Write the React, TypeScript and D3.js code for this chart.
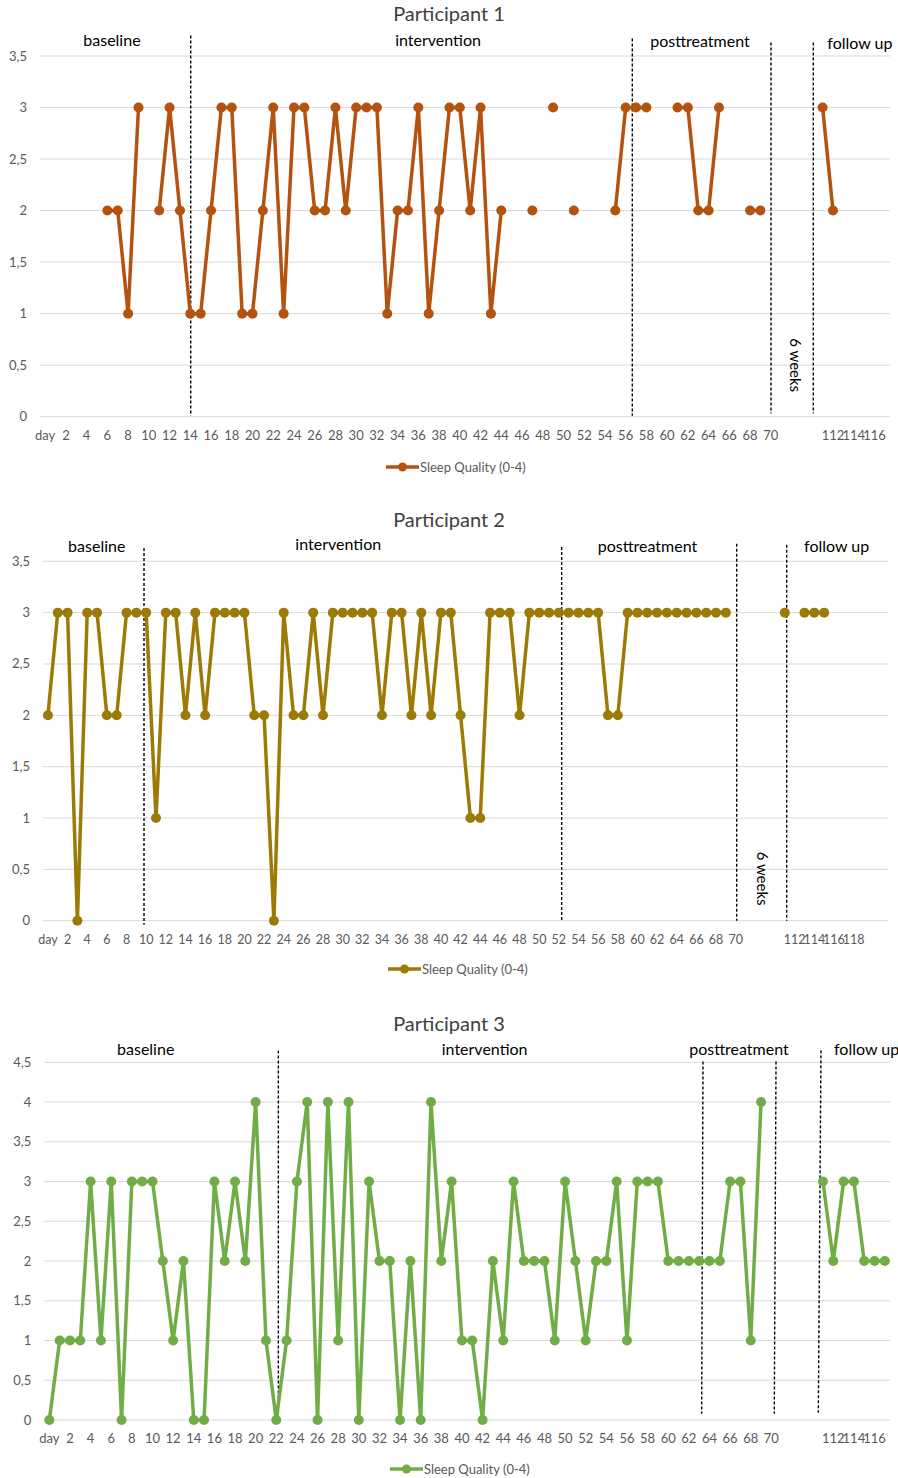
import { useEffect, useRef } from "react";
import * as d3 from "d3";

// Sleep quality per category index (null = no entry)
const P1_QUALITY: (number | null)[] = [
  null, null, null, null, null, null, 2, 2, 1, 3,
  null, 2, 3, 2, 1, 1, 2, 3, 3, 1,
  1, 2, 3, 1, 3, 3, 2, 2, 3, 2,
  3, 3, 3, 1, 2, 2, 3, 1, 2, 3,
  3, 2, 3, 1, 2, null, null, 2, null, 3,
  null, 2, null, null, null, 2, 3, 3, 3, null,
  null, 3, 3, 2, 2, 3, null, null, 2, 2,
  null, null, null, null, null, 3, 2, null, null, null,
  null, null,
];

const P2_QUALITY: (number | null)[] = [
  2, 3, 3, 0, 3, 3, 2, 2, 3, 3,
  3, 1, 3, 3, 2, 3, 2, 3, 3, 3,
  3, 2, 2, 0, 3, 2, 2, 3, 2, 3,
  3, 3, 3, 3, 2, 3, 3, 2, 3, 2,
  3, 3, 2, 1, 1, 3, 3, 3, 2, 3,
  3, 3, 3, 3, 3, 3, 3, 2, 2, 3,
  3, 3, 3, 3, 3, 3, 3, 3, 3, 3,
  null, null, null, null, null, 3, null, 3, 3, 3,
  null, null, null, null, null, null,
];

const P3_QUALITY: (number | null)[] = [
  0, 1, 1, 1, 3, 1, 3, 0, 3, 3,
  3, 2, 1, 2, 0, 0, 3, 2, 3, 2,
  4, 1, 0, 1, 3, 4, 0, 4, 1, 4,
  0, 3, 2, 2, 0, 2, 0, 4, 2, 3,
  1, 1, 0, 2, 1, 3, 2, 2, 2, 1,
  3, 2, 1, 2, 2, 3, 1, 3, 3, 3,
  2, 2, 2, 2, 2, 2, 3, 3, 1, 4,
  null, null, null, null, null, 3, 2, 3, 3, 2,
  2, 2,
];

// Category labels: "day", 1..70, a few empty slots, then follow-up days
const BASE_DAYS = ["day", ...d3.range(1, 71).map(String)];
const GAP = ["", "", "", ""];
const FOLLOW_1 = ["111", "112", "113", "114", "115", "116", "117"];
const FOLLOW_2 = ["111", "112", "113", "114", "115", "116", "117", "118", "119", "", ""];
const FOLLOW_3 = ["111", "112", "113", "114", "115", "116", "117"];

const Y_TICKS_35 = [0, 0.5, 1, 1.5, 2, 2.5, 3, 3.5];
const Y_TICKS_45 = [0, 0.5, 1, 1.5, 2, 2.5, 3, 3.5, 4, 4.5];

const PHASES = ["baseline", "intervention", "posttreatment", "follow up"];
const LEGEND_LABEL = "Sleep Quality (0-4)";

// phase dividers in category units: [x top, x bottom, value top, value bottom]
const DIVIDERS_1 = [
  [14.04, 14.04, 3.7, 0.01],
  [56.64, 56.64, 3.67, 0.01],
  [70.02, 70.02, 3.63, 0.03],
  [74.1, 74.1, 3.63, 0.03],
];
const DIVIDERS_2 = [
  [9.78, 9.78, 3.63, -0.04],
  [52.29, 52.29, 3.64, 0],
  [70.1, 70.1, 3.67, 0],
  [75.19, 75.19, 3.66, 0],
];
const DIVIDERS_3 = [
  [22.2, 22.2, 4.65, 0.03],
  [63.37, 63.24, 4.51, 0.08],
  [70.45, 70.28, 4.51, 0.08],
  [74.81, 74.55, 4.65, 0.09],
];

const FONT = "Lato, 'Open Sans', sans-serif";

interface ChartCfg {
  title: string;
  values: (number | null)[];
  labels: string[];
  yTicks: number[];
  color: string;
  left: number;
  right: number;
  yZero: number;
  yTop: number;
  titleY: number;
  legendY: number;
  legendX: number;
  tickSize: number;
  dividers: number[][];
  // phase label positions in category units, plus value for vertical placement
  phasePos: { i: number; v: number; anchor: string }[];
  weeks?: { i: number; v: number };
}

const CHARTS: ChartCfg[] = [
  {
    title: "Participant 1",
    values: P1_QUALITY,
    labels: [...BASE_DAYS, ...GAP, ...FOLLOW_1],
    yTicks: Y_TICKS_35,
    color: "#b4520f",
    left: 40, right: 890, yZero: 416.7, yTop: 56,
    titleY: 21, legendY: 467, legendX: 386, tickSize: 13,
    dividers: DIVIDERS_1,
    phasePos: [
      { i: 6.44, v: 3.65, anchor: "middle" },
      { i: 37.9, v: 3.65, anchor: "middle" },
      { i: 63.17, v: 3.64, anchor: "middle" },
      { i: 78.6, v: 3.62, anchor: "middle" },
    ],
    weeks: { i: 72.33, v: 0.5 },
  },
  {
    title: "Participant 2",
    values: P2_QUALITY,
    labels: [...BASE_DAYS, ...GAP, ...FOLLOW_2],
    yTicks: Y_TICKS_35,
    color: "#9c7a06",
    left: 43, right: 888, yZero: 920.7, yTop: 561.3,
    titleY: 527, legendY: 969, legendX: 388, tickSize: 12.5,
    dividers: DIVIDERS_2,
    phasePos: [
      { i: 4.97, v: 3.64, anchor: "middle" },
      { i: 29.55, v: 3.66, anchor: "middle" },
      { i: 61.02, v: 3.64, anchor: "middle" },
      { i: 80.27, v: 3.64, anchor: "middle" },
    ],
    weeks: { i: 72.64, v: 0.41 },
  },
  {
    title: "Participant 3",
    values: P3_QUALITY,
    labels: [...BASE_DAYS, ...GAP, ...FOLLOW_3],
    yTicks: Y_TICKS_45,
    color: "#70ad47",
    left: 44.2, right: 890, yZero: 1420, yTop: 1062.3,
    titleY: 1031, legendY: 1469, legendX: 390, tickSize: 13,
    dividers: DIVIDERS_3,
    phasePos: [
      { i: 9.34, v: 4.65, anchor: "middle" },
      { i: 42.2, v: 4.65, anchor: "middle" },
      { i: 66.86, v: 4.65, anchor: "middle" },
      { i: 76.07, v: 4.65, anchor: "start" },
    ],
  },
];

const fmtTick = (d: number) => String(d).replace(".", ",");

const App = () => {
  const svgRef = useRef<SVGSVGElement>(null);

  useEffect(() => {
    if (!svgRef.current) return;
    const svg = d3.select(svgRef.current);
    svg.selectAll("*").remove();

    CHARTS.forEach((c) => {
      const g = svg.append("g");
      const n = c.labels.length;
      const x = d3.scaleLinear().domain([-0.5, n - 0.5]).range([c.left, c.right]);
      const yMax = c.yTicks[c.yTicks.length - 1];
      const y = d3.scaleLinear().domain([0, yMax]).range([c.yZero, c.yTop]);

      // gridlines
      g.append("g")
        .selectAll("line")
        .data(c.yTicks)
        .enter()
        .append("line")
        .attr("x1", c.left)
        .attr("x2", c.right)
        .attr("y1", (d) => y(d))
        .attr("y2", (d) => y(d))
        .attr("stroke", "#d9d9d9")
        .attr("stroke-width", 1);

      // y labels
      g.append("g")
        .selectAll("text")
        .data(c.yTicks)
        .enter()
        .append("text")
        .attr("x", c.left - 13)
        .attr("y", (d) => y(d) + 4.5)
        .attr("text-anchor", "end")
        .style("font-family", FONT)
        .style("font-size", "13px")
        .attr("fill", "#595959")
        .text(fmtTick);

      // x labels (every other category)
      g.append("g")
        .selectAll("text")
        .data(c.labels.map((l, i) => ({ l, i })).filter((d) => d.i % 2 === 0 && d.l !== ""))
        .enter()
        .append("text")
        .attr("x", (d) => x(d.i))
        .attr("y", c.yZero + 23)
        .attr("text-anchor", "middle")
        .style("font-family", FONT)
        .style("font-size", `${c.tickSize}px`)
        .attr("fill", "#595959")
        .text((d) => d.l);

      // title
      g.append("text")
        .attr("x", 449)
        .attr("y", c.titleY)
        .attr("text-anchor", "middle")
        .style("font-family", FONT)
        .style("font-size", "20px")
        .attr("fill", "#404040")
        .text(c.title);

      // phase dividers
      c.dividers.forEach(([i1, i2, v1, v2]) => {
        g.append("line")
          .attr("x1", x(i1))
          .attr("x2", x(i2))
          .attr("y1", y(v1))
          .attr("y2", y(v2))
          .attr("stroke", "#000")
          .attr("stroke-width", 1.4)
          .attr("stroke-dasharray", "3,2");
      });

      // phase labels
      c.phasePos.forEach((p, k) => {
        g.append("text")
          .attr("x", x(p.i))
          .attr("y", y(p.v) + 5)
          .attr("text-anchor", p.anchor)
          .style("font-family", FONT)
          .style("font-size", "16px")
          .attr("fill", "#000")
          .text(PHASES[k]);
      });

      if (c.weeks) {
        g.append("text")
          .attr("transform", `translate(${x(c.weeks.i) - 5},${y(c.weeks.v)}) rotate(90)`)
          .attr("text-anchor", "middle")
          .style("font-family", FONT)
          .style("font-size", "15px")
          .attr("fill", "#000")
          .text("6 weeks");
      }

      // series line with gaps
      const pts = c.values.map((v, i) => ({ i, v }));
      const line = d3
        .line<{ i: number; v: number | null }>()
        .defined((d) => d.v !== null)
        .x((d) => x(d.i))
        .y((d) => y(d.v as number));

      g.append("path")
        .datum(pts)
        .attr("fill", "none")
        .attr("stroke", c.color)
        .attr("stroke-width", 3.5)
        .attr("stroke-linejoin", "round")
        .attr("d", line);

      g.append("g")
        .selectAll("circle")
        .data(pts.filter((d) => d.v !== null))
        .enter()
        .append("circle")
        .attr("cx", (d) => x(d.i))
        .attr("cy", (d) => y(d.v as number))
        .attr("r", 5)
        .attr("fill", c.color);

      // legend
      const lg = g.append("g").attr("transform", `translate(${c.legendX},${c.legendY})`);
      lg.append("line")
        .attr("x1", 0)
        .attr("x2", 33)
        .attr("y1", 0)
        .attr("y2", 0)
        .attr("stroke", c.color)
        .attr("stroke-width", 3.5);
      lg.append("circle").attr("cx", 16.5).attr("cy", 0).attr("r", 4.5).attr("fill", c.color);
      lg.append("text")
        .attr("x", 34)
        .attr("y", 4.5)
        .style("font-family", FONT)
        .style("font-size", "13px")
        .attr("fill", "#595959")
        .text(LEGEND_LABEL);
    });
  }, []);

  return (
    <svg
      ref={svgRef}
      width={898}
      height={1478}
      style={{ position: "absolute", left: 0, top: 0, background: "#fff" }}
    />
  );
};

export default App;
